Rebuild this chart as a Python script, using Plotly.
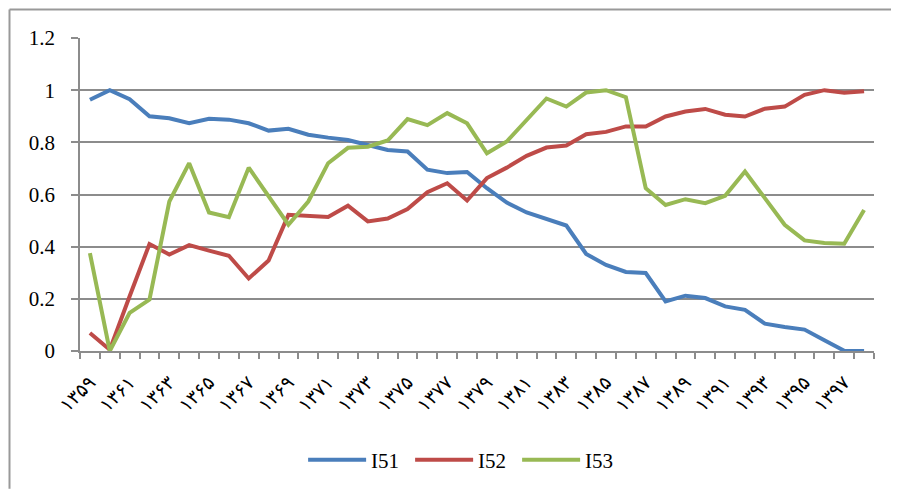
import plotly.graph_objects as go

years = list(range(1359, 1399))
fa_digits = str.maketrans("0123456789", "۰۱۲۳۴۵۶۷۸۹")
year_labels = [str(y).translate(fa_digits) for y in years]

I51 = [0.963, 1.0, 0.965, 0.900, 0.892, 0.873, 0.890, 0.887, 0.873, 0.845,
       0.852, 0.829, 0.818, 0.809, 0.790, 0.771, 0.765, 0.695, 0.682, 0.686,
       0.624, 0.569, 0.531, 0.507, 0.481, 0.372, 0.330, 0.303, 0.299, 0.190,
       0.212, 0.203, 0.171, 0.158, 0.105, 0.092, 0.082, 0.041, 0.001, 0.0]
I52 = [0.069, 0.005, 0.210, 0.410, 0.370, 0.406, 0.385, 0.365, 0.278, 0.347,
       0.522, 0.517, 0.514, 0.557, 0.497, 0.508, 0.544, 0.609, 0.643, 0.577,
       0.663, 0.703, 0.748, 0.780, 0.788, 0.831, 0.840, 0.861, 0.861, 0.899,
       0.918, 0.928, 0.906, 0.899, 0.929, 0.937, 0.982, 1.0, 0.990, 0.996]
I53 = [0.375, 0.0, 0.146, 0.197, 0.573, 0.720, 0.531, 0.513, 0.703, 0.592,
       0.484, 0.573, 0.720, 0.779, 0.783, 0.807, 0.889, 0.866, 0.912, 0.873,
       0.758, 0.803, 0.886, 0.968, 0.937, 0.991, 1.0, 0.973, 0.624, 0.560,
       0.582, 0.567, 0.595, 0.688, 0.586, 0.484, 0.424, 0.414, 0.411, 0.541]

series = [("I51", I51, "#4A7EBB"), ("I52", I52, "#BE4B48"), ("I53", I53, "#98B954")]

fig = go.Figure()
for name, vals, color in series:
    fig.add_trace(go.Scatter(x=years, y=vals, name=name, mode="lines",
                             line=dict(color=color, width=4)))

grid = "#8C8C8C"
fig.update_layout(
    width=891, height=483,
    margin=dict(l=72, r=25, t=30, b=139),
    paper_bgcolor="white", plot_bgcolor="white",
    font=dict(family="Liberation Serif, Times New Roman, serif", color="black", size=20),
    showlegend=True,
    legend=dict(orientation="h", x=0.281, xanchor="left", y=-0.344, yanchor="middle",
                font=dict(size=21), itemwidth=58, entrywidth=34, entrywidthmode="pixels",
                bgcolor="rgba(0,0,0,0)"),
    xaxis=dict(
        range=[1358.5, 1398.5],
        tickmode="array", tickvals=years[::2], ticktext=year_labels[::2],
        ticks="", tickangle=-45, ticklabelstandoff=11,
        tickfont=dict(family="DejaVu Sans, Liberation Serif", size=19, color="black"),
        showgrid=False, zeroline=False,
        showline=True, linecolor=grid, linewidth=1.5,
        minor=dict(tickmode="linear", tick0=1358.5, dtick=1, ticks="outside",
                   ticklen=6, tickcolor=grid, tickwidth=1.5, showgrid=False),
    ),
    yaxis=dict(
        range=[0, 1.2], tickmode="linear", tick0=0, dtick=0.2,
        showgrid=True, gridcolor=grid, gridwidth=1.5,
        zeroline=False, showline=True, linecolor=grid, linewidth=1.5,
        ticks="outside", ticklen=7, tickcolor=grid, tickwidth=1.5,
        ticklabelstandoff=12,
        tickfont=dict(size=21),
    ),
)

border = "#999999"
bx = (1.5 - 72) / 794
by = (344 - 1.5) / 314
fig.add_shape(type="line", xref="paper", yref="paper", layer="above",
              x0=bx, x1=1.04, y0=by, y1=by,
              line=dict(color=border, width=2))
fig.add_shape(type="line", xref="paper", yref="paper", layer="above",
              x0=bx, x1=bx, y0=by, y1=-0.44,
              line=dict(color=border, width=2))

fig.write_html("out.html")
